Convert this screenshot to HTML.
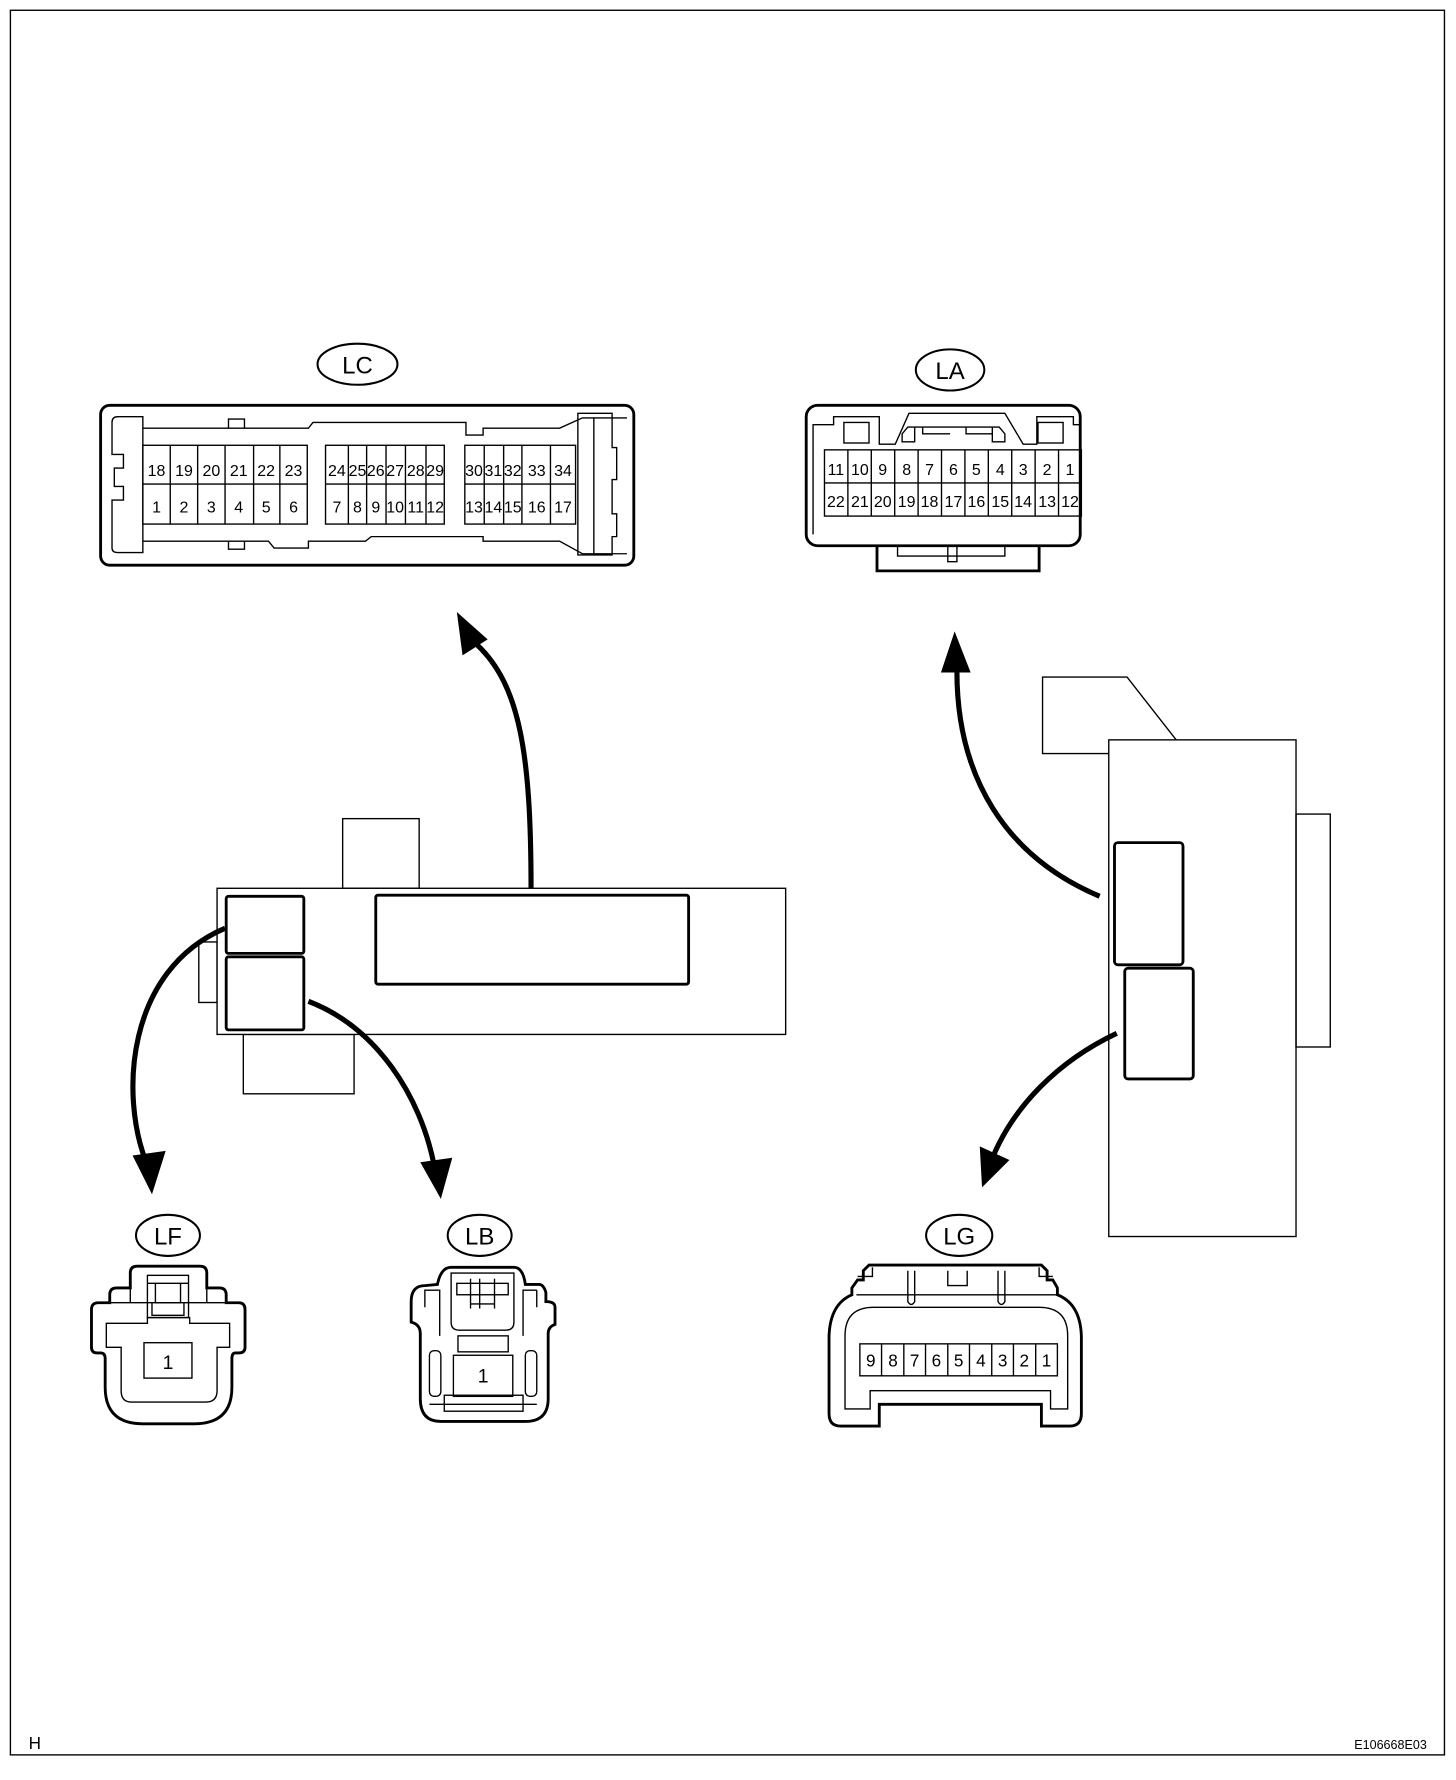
<!DOCTYPE html>
<html><head><meta charset="utf-8"><style>
html,body{margin:0;padding:0;background:#fff}
svg{display:block}
text{font-family:"Liberation Sans",sans-serif;fill:#000}
</style></head><body>
<svg width="1456" height="1780" viewBox="0 0 1275 1559" xmlns="http://www.w3.org/2000/svg">
<g fill="none" stroke="#000" stroke-width="1.2">
<rect x="9" y="9" width="1256" height="1528"/>
</g>
<text x="25" y="1532" font-size="15">H</text>
<text x="1186" y="1532" font-size="11">E106668E03</text>

<!-- LC -->
<ellipse cx="313" cy="319" rx="35" ry="18" fill="none" stroke="#000" stroke-width="1.8"/>
<text x="313" y="327" font-size="21" text-anchor="middle">LC</text>
<g fill="none" stroke="#000">
<rect x="88" y="355" width="467" height="140" rx="8" stroke-width="2.5"/>
<path d="M125,375 H270 L274,370 H408 V381 H423 V375 H490 L510,366 H520 V485 H510 L490,474 H423 V470 H325 L320,474 H270 V480 H240 L235,474 H125" stroke-width="1.2"/>
<path d="M125,365 H103 Q98,365 98,370 V398 H108 V410 H100 V426 H108 V438 H98 V480 Q98,484 103,484 H125 Z" stroke-width="1.2"/>
<path d="M200,375 V367 H214 V375 M200,474 V481 H214 V474" stroke-width="1.2"/>
<path d="M506,362 H536 V392 H540 V420 H536 V450 H540 V470 H536 V486 H506 Z M520,366 H549 M520,485 H549" stroke-width="1.2"/>
<rect x="125" y="390" width="144" height="69" stroke-width="1.2"/>
<rect x="285" y="390" width="104" height="69" stroke-width="1.2"/>
<rect x="407" y="390" width="97" height="69" stroke-width="1.2"/>
<path d="M125,424 H269 M285,424 H389 M407,424 H504 M149,390 V459 M173,390 V459 M197,390 V459 M222,390 V459 M245,390 V459 M305,390 V459 M321,390 V459 M338,390 V459 M355,390 V459 M373,390 V459 M424,390 V459 M441,390 V459 M457,390 V459 M482,390 V459" stroke-width="1.2"/>
</g>
<g font-size="14" text-anchor="middle">
<text x="137" y="417">18</text><text x="161" y="417">19</text><text x="185" y="417">20</text><text x="209" y="417">21</text><text x="233" y="417">22</text><text x="257" y="417">23</text>
<text x="295" y="417">24</text><text x="313" y="417">25</text><text x="329" y="417">26</text><text x="346" y="417">27</text><text x="364" y="417">28</text><text x="381" y="417">29</text>
<text x="415" y="417">30</text><text x="432" y="417">31</text><text x="449" y="417">32</text><text x="470" y="417">33</text><text x="493" y="417">34</text>
<text x="137" y="449">1</text><text x="161" y="449">2</text><text x="185" y="449">3</text><text x="209" y="449">4</text><text x="233" y="449">5</text><text x="257" y="449">6</text>
<text x="295" y="449">7</text><text x="313" y="449">8</text><text x="329" y="449">9</text><text x="346" y="449">10</text><text x="364" y="449">11</text><text x="381" y="449">12</text>
<text x="415" y="449">13</text><text x="432" y="449">14</text><text x="449" y="449">15</text><text x="470" y="449">16</text><text x="493" y="449">17</text>
</g>

<!-- LA -->
<ellipse cx="832" cy="324" rx="30" ry="18" fill="none" stroke="#000" stroke-width="1.8"/>
<text x="832" y="332" font-size="21" text-anchor="middle">LA</text>
<g fill="none" stroke="#000">
<path d="M768,478 V500 H910 V478" stroke-width="2.5"/>
<rect x="706" y="355" width="240" height="123" rx="10" stroke-width="2.5"/>
<path d="M712,468 V372 H730 V365 H770 V389 H784 L796,362 H880 L896,389 H908 V365 H940 V372 H946" stroke-width="1.2"/>
<rect x="739" y="370" width="22" height="18" stroke-width="1.2"/>
<rect x="909" y="370" width="22" height="18" stroke-width="1.2"/>
<path d="M790,387 V380 L795,374 H801 V387 Z M880,387 V380 L875,374 H869 V387 Z M801,374 H869 M808,374 V380 H832 M846,374 V380 H869" stroke-width="1.2"/>
<path d="M786,478 V487 H880 V478 M830,478 V492 H838 V478" stroke-width="1.2"/>
<rect x="722" y="394" width="225" height="58" stroke-width="1.2"/>
<path d="M722,423 H947 M742.5,394 V452 M763,394 V452 M783.5,394 V452 M804,394 V452 M824.5,394 V452 M845,394 V452 M865.5,394 V452 M886,394 V452 M906.5,394 V452 M927,394 V452" stroke-width="1.2"/>
</g>
<g font-size="14" text-anchor="middle">
<text x="732" y="416">11</text><text x="753" y="416">10</text><text x="773" y="416">9</text><text x="794" y="416">8</text><text x="814" y="416">7</text><text x="835" y="416">6</text><text x="855" y="416">5</text><text x="876" y="416">4</text><text x="896" y="416">3</text><text x="917" y="416">2</text><text x="937" y="416">1</text>
<text x="732" y="444">22</text><text x="753" y="444">21</text><text x="773" y="444">20</text><text x="794" y="444">19</text><text x="814" y="444">18</text><text x="835" y="444">17</text><text x="855" y="444">16</text><text x="876" y="444">15</text><text x="896" y="444">14</text><text x="917" y="444">13</text><text x="937" y="444">12</text>
</g>

<!-- middle-left component -->
<g fill="none" stroke="#000" stroke-width="1.2">
<rect x="300" y="717" width="67" height="61"/>
<rect x="213" y="906" width="97" height="52"/>
<rect x="174" y="825" width="16" height="53"/>
<rect x="190" y="778" width="498" height="128" fill="#fff"/>
</g>
<g fill="none" stroke="#000" stroke-width="2.5">
<rect x="329" y="784" width="274" height="78" rx="2"/>
<rect x="198" y="785" width="68" height="50" rx="2"/>
<rect x="198" y="838" width="68" height="64" rx="2"/>
</g>

<!-- right component -->
<g fill="none" stroke="#000" stroke-width="1.2">
<path d="M971,660 H913 V593 H987 L1030,648"/>
<rect x="1135" y="713" width="30" height="204"/>
<rect x="971" y="648" width="164" height="435"/>
</g>
<g fill="none" stroke="#000" stroke-width="2.5">
<rect x="976" y="738" width="60" height="107" rx="3"/>
<rect x="985" y="848" width="60" height="97" rx="3"/>
</g>

<!-- arrows -->
<g fill="none" stroke="#000" stroke-width="4.5">
<path d="M465,778 C465,660 455,600 418,565"/>
<path d="M197,813 C110,850 105,960 128,1018"/>
<path d="M270,877 C330,900 368,960 380,1020"/>
<path d="M963,785 C880,750 838,680 838,588"/>
<path d="M978,905 C925,930 888,970 870,1012"/>
</g>
<g fill="#000">
<polygon points="400,536 427,560 405,574"/>
<polygon points="133,1046 116,1012 145,1008"/>
<polygon points="386,1050 368,1018 396,1014"/>
<polygon points="836,553 850,589 824,589"/>
<polygon points="860,1040 858,1004 884,1016"/>
</g>

<!-- LF -->
<ellipse cx="147" cy="1082" rx="28" ry="18" fill="none" stroke="#000" stroke-width="1.8"/>
<text x="147" y="1090" font-size="21" text-anchor="middle">LF</text>
<g fill="none" stroke="#000">
<path d="M114,1128 V1115 Q114,1109 120,1109 H175 Q181,1109 181,1115 V1128 H192 Q198,1128 198,1134 V1141 H209 Q214.5,1141 214.5,1147 V1180 Q214.5,1185 209,1185 H206 Q203,1185 203,1190 V1215 Q203,1247 170,1247 H125 Q92,1247 92,1215 V1190 Q92,1185 88,1185 H85 Q80,1185 80,1180 V1147 Q80,1141 86,1141 H96 V1134 Q96,1128 102,1128 Z" stroke-width="2.5"/>
<path d="M96,1141 H198 M114,1128 V1141 M181,1128 V1141" stroke-width="1.2"/>
<path d="M93,1159 H129 V1154 H166 V1159 H201 V1180 H190 V1218 Q190,1228 180,1228 H115 Q106,1228 106,1218 V1180 H93 Z" stroke-width="1.2"/>
<rect x="129" y="1117" width="36" height="37" stroke-width="1.2"/>
<path d="M129,1124 H165 M136,1124 V1141 H158 V1124 M133,1141 V1152 H161 V1141" stroke-width="1.2"/>
<rect x="126" y="1176" width="42" height="31" stroke-width="1.2"/>
</g>
<text x="147" y="1199" font-size="17" text-anchor="middle">1</text>

<!-- LB -->
<ellipse cx="420" cy="1082" rx="28" ry="18" fill="none" stroke="#000" stroke-width="1.8"/>
<text x="420" y="1090" font-size="21" text-anchor="middle">LB</text>
<g fill="none" stroke="#000">
<path d="M383,1125 Q386,1110 395,1110 H450 Q458,1110 460,1125 H472 Q476,1125 478,1132 V1140 Q486,1140 486,1145 V1160 Q480,1162 480,1168 V1225 Q480,1245 460,1245 H386 Q368,1245 368,1225 V1168 Q368,1160 360,1158 V1140 Q360,1126 372,1126 Z" stroke-width="2.5"/>
<path d="M395,1115 H450 V1158 Q450,1165 443,1165 H402 Q395,1165 395,1158 Z" stroke-width="1.2"/>
<rect x="400" y="1124" width="45" height="10" stroke-width="1.2"/>
<path d="M412,1120 V1146 M420,1120 V1146 M433,1120 V1146 M412,1142 H433" stroke-width="1.2"/>
<rect x="401" y="1170" width="44" height="14" stroke-width="1.2"/>
<rect x="397" y="1187" width="52" height="36" stroke-width="1.2"/>
<rect x="389" y="1222" width="69" height="14" stroke-width="1.2"/>
<rect x="376" y="1183" width="10" height="40" rx="4" stroke-width="1.2"/>
<rect x="460" y="1183" width="10" height="40" rx="4" stroke-width="1.2"/>
<path d="M372,1145 V1130 H385 V1170 M470,1130 H458 V1170 M470,1130 V1145 M376,1230 H470" stroke-width="1.2"/>
</g>
<text x="423" y="1211" font-size="17" text-anchor="middle">1</text>

<!-- LG -->
<ellipse cx="840" cy="1082" rx="29" ry="18" fill="none" stroke="#000" stroke-width="1.8"/>
<text x="840" y="1090" font-size="21" text-anchor="middle">LG</text>
<g fill="none" stroke="#000">
<path d="M768,1108 H912 L917,1113 V1121 H922 L926,1128 V1134 Q946,1142 947,1170 V1238 Q947,1249 937,1249 H912 V1230 H770 V1249 H736 Q726,1249 726,1238 V1170 Q727,1142 746,1134 V1128 L751,1121 H756 V1113 L761,1108 Z" stroke-width="2.5"/>
<path d="M764,1110 V1118 H751 M910,1110 V1118 H922 M750,1134 H926 M740,1234 V1170 Q740,1145 765,1145 H910 Q935,1145 935,1170 V1234 H920 V1218 H762 V1234 Z" stroke-width="1.2"/>
<path d="M795,1113 V1140 Q798,1145 801,1140 V1113 M874,1113 V1140 Q877,1145 880,1140 V1113 M830,1113 V1126 H847 V1113" stroke-width="1.2"/>
<rect x="753" y="1177" width="173" height="28" stroke-width="1.2"/>
<path d="M772,1177 V1205 M791.5,1177 V1205 M810.5,1177 V1205 M830,1177 V1205 M849,1177 V1205 M868.5,1177 V1205 M887.5,1177 V1205 M907,1177 V1205" stroke-width="1.2"/>
</g>
<g font-size="15" text-anchor="middle">
<text x="762.5" y="1197">9</text><text x="782" y="1197">8</text><text x="801" y="1197">7</text><text x="820" y="1197">6</text><text x="839.5" y="1197">5</text><text x="859" y="1197">4</text><text x="878" y="1197">3</text><text x="897" y="1197">2</text><text x="916.5" y="1197">1</text>
</g>
</svg>
</body></html>
